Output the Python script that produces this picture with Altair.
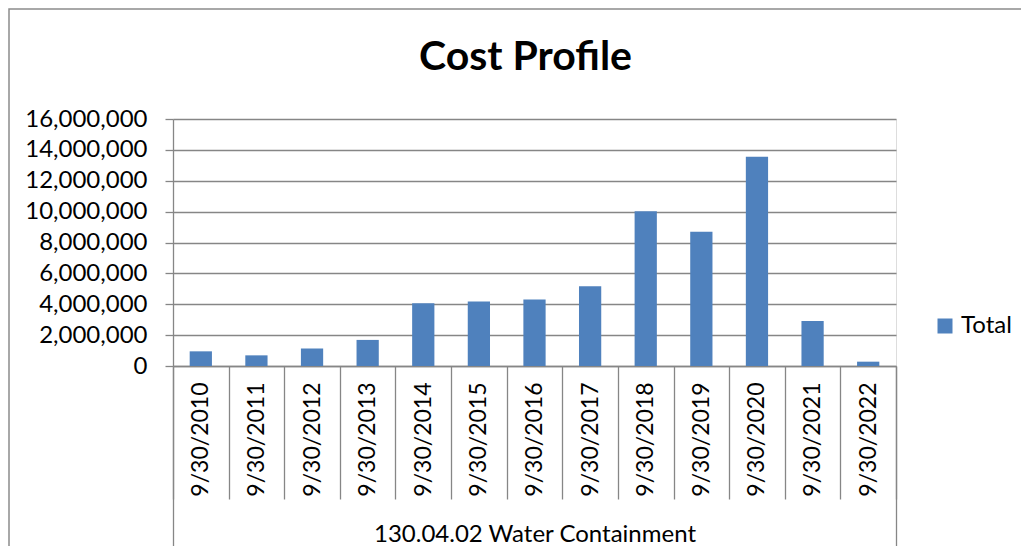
import altair as alt
import pandas as pd

chart_title = ["Cost Profile"]
dates = ["9/30/2010", "9/30/2011", "9/30/2012", "9/30/2013", "9/30/2014",
         "9/30/2015", "9/30/2016", "9/30/2017", "9/30/2018", "9/30/2019",
         "9/30/2020", "9/30/2021", "9/30/2022"]
totals = [950000, 690000, 1130000, 1690000, 4070000, 4180000, 4310000,
          5170000, 10020000, 8700000, 13550000, 2920000, 280000]
series = ["Total"] * len(dates)
group = ["130.04.02 Water Containment"] * len(dates)
y_ticks = [0, 2000000, 4000000, 6000000, 8000000, 10000000, 12000000, 14000000, 16000000]

df = pd.DataFrame({"date": dates, "total": totals, "series": series, "group": group})

FONT = "Lato"
GRAY = "#868686"
BLUE = "#4F81BD"
W, H = 723, 247

bars = alt.Chart(df).mark_bar(width=alt.RelativeBandSize(0.4)).encode(
    x=alt.X("date:N", sort=dates,
            scale=alt.Scale(paddingInner=0, paddingOuter=0),
            axis=alt.Axis(title=None, orient="bottom", labelAngle=270, labelAlign="right",
                          labelBaseline="middle", labelFontSize=23, labelFont=FONT,
                          labelColor="black", labelPadding=-117,
                          tickBand="extent", tickSize=133, tickColor=GRAY,
                          tickWidth=1.3, domainColor=GRAY, domainWidth=1.3,
                          grid=False)),
    y=alt.Y("total:Q", scale=alt.Scale(domain=[0, 16000000]),
            axis=alt.Axis(title=None, values=y_ticks, format=",d",
                          labelFontSize=24, labelFont=FONT, labelColor="black",
                          labelPadding=18, tickSize=8, tickColor=GRAY, tickWidth=1.3,
                          domainColor=GRAY, domainWidth=1.3,
                          grid=True, gridColor=GRAY, gridWidth=1.3)),
    color=alt.Color("series:N", scale=alt.Scale(range=[BLUE]),
                    legend=alt.Legend(title=None, orient="none", legendX=760, legendY=195,
                                      symbolType="square", symbolSize=225,
                                      symbolStrokeWidth=0, labelFontSize=24,
                                      labelFont=FONT, labelColor="black", padding=0)),
)

grp = alt.Chart(df).mark_point(opacity=0).encode(
    x=alt.X("group:N",
            scale=alt.Scale(type="band", paddingInner=0, paddingOuter=0),
            axis=alt.Axis(title=group[0], orient="bottom",
                          labels=False, domain=False, tickBand="extent", tickSize=184,
                          tickColor=GRAY, tickWidth=1.3,
                          titleFontSize=24, titleFont=FONT, titleFontWeight="normal",
                          titleColor="black", titleY=168, titleBaseline="middle")),
)

title = alt.Chart(pd.DataFrame({"t": chart_title})).mark_text(
    font=FONT, fontSize=41, fontWeight="bold", color="black",
    align="center", baseline="alphabetic"
).encode(text="t:N", x=alt.value(W / 2 - 9), y=alt.value(-49))

border = alt.Chart(alt.Data(values=[{"a": 1}])).mark_rect(
    fill=None, stroke="#8c8c8c", strokeWidth=1.5
).encode(
    x=alt.value(-164), x2=alt.value(900), y=alt.value(-110), y2=alt.value(500)
)

chart = alt.layer(border, title, bars, grp).resolve_scale(x="independent").properties(
    width=W, height=H,
    autosize=alt.AutoSizeParams(type="none"),
    padding={"left": 165, "top": 111, "right": 125, "bottom": 180},
).configure_view(stroke=None).configure(background="white")

chart.save("out.html", embed_options={"renderer": "svg", "actions": False})
